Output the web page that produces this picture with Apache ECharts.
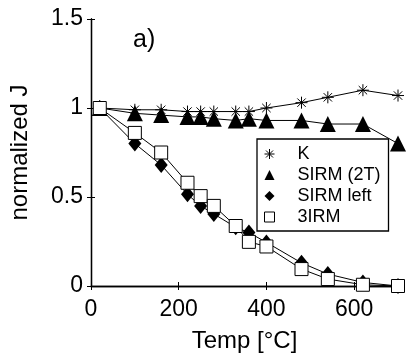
<!DOCTYPE html>
<html><head><meta charset="utf-8">
<script src="https://cdn.jsdelivr.net/npm/echarts@6/dist/echarts.min.js"></script>
<style>html,body{margin:0;padding:0;background:#fff}#c{width:406px;height:358px}</style>
</head><body><div id="c"></div>
<script>
var temps = [20, 100, 160, 220, 250, 280, 330, 360, 400, 480, 540, 620, 700];
var kVals = [1.0, 0.99, 0.99, 0.98, 0.98, 0.98, 0.98, 0.98, 1.0, 1.03, 1.06, 1.10, 1.07];
var sirm2tVals = [1.0, 0.97, 0.96, 0.95, 0.95, 0.94, 0.93, 0.94, 0.93, 0.93, 0.91, 0.91, 0.80];
var sirmLeftVals = [1.0, 0.80, 0.68, 0.515, 0.45, 0.405, 0.33, 0.30, 0.245, 0.13, 0.067, 0.02, 0.0];
var irm3Vals = [1.0, 0.86, 0.75, 0.58, 0.505, 0.45, 0.337, 0.248, 0.222, 0.095, 0.039, 0.007, 0.0];
var xTicks = [0, 200, 400, 600];
var yTicks = [0, 0.5, 1, 1.5];

function pairs(xs, ys){ return xs.map(function(x,i){ return [x, ys[i]]; }); }
var star = 'path://M5,0 L5,10 M0,5 L10,5 M1.5,1.5 L8.5,8.5 M1.5,8.5 L8.5,1.5';
var smallSquare = 'path://M0,0 M10,10 M2,2 L8,2 L8,8 L2,8 Z';
var font = 'Liberation Sans, Arial, sans-serif';

var chart = echarts.init(document.getElementById('c'), null, {renderer:'canvas'});
var axisCommon = {
  axisLine:{show:true, lineStyle:{color:'#000', width:1.3}},
  axisTick:{show:true, inside:true, length:4, lineStyle:{color:'#000'}},
  splitLine:{show:false}
};
chart.setOption({
  animation:false,
  grid:{left:90, right:8, top:19, bottom:71},
  xAxis:[
    Object.assign({type:'value', min:0, max:700, interval:200, position:'bottom',
      name:'Temp [°C]', nameLocation:'middle', nameGap:43,
      nameTextStyle:{color:'#000', fontSize:24, fontFamily:font},
      axisLabel:{color:'#000', fontSize:23, fontFamily:font, margin:12, showMaxLabel:false,
        formatter:function(v){ return xTicks.indexOf(v)>=0 ? String(v) : ''; }}}, axisCommon),
    Object.assign({type:'value', min:0, max:700, interval:200, position:'top',
      axisLabel:{show:false}}, axisCommon)
  ],
  yAxis:[
    Object.assign({type:'value', min:0, max:1.5, interval:0.5, position:'left',
      name:'normalized J', nameLocation:'middle', nameGap:59,
      nameTextStyle:{color:'#000', fontSize:24, fontFamily:font},
      axisLabel:{color:'#000', fontSize:23, fontFamily:font, margin:8,
        formatter:function(v){ return yTicks.indexOf(v)>=0 ? String(v) : ''; }}}, axisCommon),
    Object.assign({type:'value', min:0, max:1.5, interval:0.5, position:'right',
      axisLabel:{show:false}}, axisCommon)
  ],
  legend:{
    orient:'vertical', left:257, top:139, padding:[6,8,5,7],
    itemWidth:10, itemHeight:10, itemGap:3,
    borderColor:'#000', borderWidth:1.3, backgroundColor:'#fff',
    textStyle:{color:'#000', fontSize:18, fontFamily:font, padding:[0,0,0,18]},
    data:[
      {name:'K', icon:star, itemStyle:{color:'#fff', borderColor:'#000', borderWidth:1}},
      {name:'SIRM (2T)', icon:'triangle', itemStyle:{color:'#000'}},
      {name:'SIRM left', icon:'diamond', itemStyle:{color:'#000'}},
      {name:'3IRM', icon:'rect', itemStyle:{color:'#fff', borderColor:'#000', borderWidth:1}}
    ]
  },
  graphic:[{type:'text', left:133, top:28, style:{text:'a)', fontSize:25, fontFamily:font, fill:'#000'}}],
  series:[
    {name:'K', type:'line', data:pairs(temps,kVals), symbol:star, symbolSize:12,
      lineStyle:{color:'#000', width:1}, itemStyle:{color:'#fff', borderColor:'#000', borderWidth:1}, z:2},
    {name:'SIRM (2T)', type:'line', data:pairs(temps,sirm2tVals), symbol:'triangle', symbolSize:16,
      lineStyle:{color:'#000', width:1}, itemStyle:{color:'#000'}, z:3},
    {name:'SIRM left', type:'line', data:pairs(temps,sirmLeftVals), symbol:'diamond', symbolSize:[13,16],
      lineStyle:{color:'#000', width:1}, itemStyle:{color:'#000'}, z:4},
    {name:'3IRM', type:'line', data:pairs(temps,irm3Vals), symbol:'rect', symbolSize:13,
      lineStyle:{color:'#000', width:1}, itemStyle:{color:'#fff', borderColor:'#000', borderWidth:1}, z:5}
  ]
});
</script></body></html>
